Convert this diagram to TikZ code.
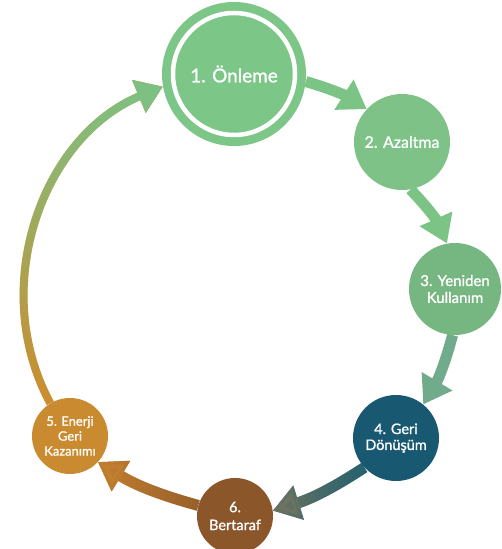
\documentclass[tikz,border=0pt]{standalone}
\usepackage{fontspec}
\setmainfont{Lato}
\newfontfamily\stagefont{Lato}[FakeBold=1.2]
\usetikzlibrary{arrows.meta,fadings}
\pgfdeclarelayer{bg}
\pgfsetlayers{bg,main}
\definecolor{gOne}{RGB}{124,198,136}
\definecolor{gTwo}{RGB}{126,194,136}
\definecolor{gThree}{RGB}{118,182,128}
\definecolor{tealF}{RGB}{24,88,112}
\definecolor{brownF}{RGB}{138,86,42}
\definecolor{ochreF}{RGB}{202,138,48}
\definecolor{arrG}{RGB}{124,196,134}
\definecolor{arrGT}{RGB}{112,172,140}
\definecolor{arrTeal}{RGB}{34,96,112}
\definecolor{arrOlive}{RGB}{112,116,96}
\definecolor{arrBrown}{RGB}{150,94,42}
\definecolor{arrOrange}{RGB}{196,128,48}
\definecolor{arcOrange}{RGB}{206,140,44}
\definecolor{arcGreen}{RGB}{124,194,132}
\begin{document}
\begin{tikzpicture}[x=1bp,y=1bp,
  stage/.style={circle, inner sep=0pt, text=white, align=center, draw=none},
  conn/.style={line width=11bp, -{Triangle[length=27bp,width=34bp]}},
  longconn/.style={line width=8bp, -{Triangle[length=26bp,width=34bp]}}
]
\useasboundingbox (0,0) rectangle (502,549);
\node[stage, fill=gOne, minimum size=144bp, font=\stagefont\fontsize{19}{22}\selectfont] (n1) at (234,475) {1. Önleme};
\draw[white, line width=4.5bp] (n1.center) circle[radius=61bp];
\node[stage, fill=gTwo, minimum size=96bp, font=\stagefont\fontsize{16}{18}\selectfont] (n2) at (402,407) {2. Azaltma};
\node[stage, fill=gThree, minimum size=92bp, font=\stagefont\fontsize{15}{17}\selectfont] (n3) at (455,260) {3. Yeniden\\Kullanım};
\node[stage, fill=tealF, minimum size=86bp, font=\stagefont\fontsize{14.5}{16}\selectfont] (n4) at (396,111) {4. Geri\\Dönüşüm};
\node[stage, fill=brownF, minimum size=76bp, font=\stagefont\fontsize{14.5}{18}\selectfont] (n6) at (235,33) {6.\\Bertaraf};
\node[stage, fill=ochreF, minimum size=76bp, font=\stagefont\fontsize{13}{15}\selectfont] (n5) at (70,113) {5. Enerji\\Geri\\Kazanımı};
\begin{pgfonlayer}{bg}
\draw[conn, arrG] (n1.-6) to[bend left=8] (n2.137);
\draw[conn, arrG] (n2.-80) to[bend left=10] (n3.100);
\draw[conn, arrGT] (n3.-93) to[bend left=8] (n4.51);
\draw[conn, arrTeal] (n4.-137) to[bend left=8] (n6.8);
\draw[conn, arrOlive, path fading=east] (n4.-137) to[bend left=8] (n6.8);
\draw[conn, arrBrown] (n6.164) to[bend left=8] (n5.-43);
\draw[conn, arrOrange, path fading=east] (n6.164) to[bend left=8] (n5.-43);
\draw[longconn, arcOrange] (n5.121) to[bend left=48] (n1.190);
\draw[longconn, arcGreen, path fading=south] (n5.121) to[bend left=48] (n1.190);
\end{pgfonlayer}
\end{tikzpicture}
\end{document}
